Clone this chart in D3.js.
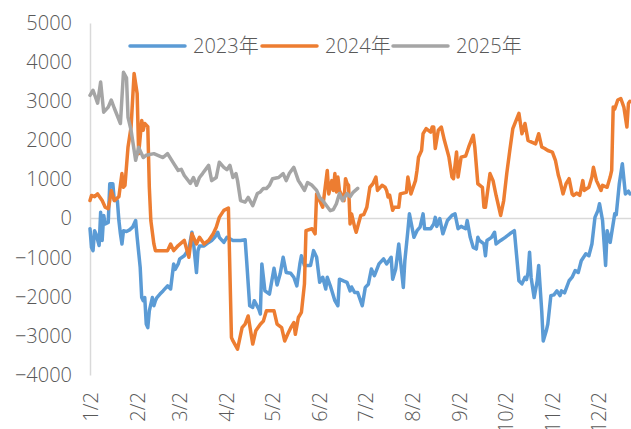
<!DOCTYPE html>
<html><head><meta charset="utf-8">
<script src="https://cdn.jsdelivr.net/npm/d3@7/dist/d3.min.js"></script>
<style>
html,body{margin:0;padding:0;background:#fff;}
svg text{font-family:"Open Sans","Noto Sans CJK SC",sans-serif;font-weight:300;fill:#595959;}
</style></head>
<body><svg id="chart" width="631" height="429"></svg>
<script>
// x values are day-of-year positions within the calendar year
const tickDays = [2,33,61,92,122,153,183,214,245,275,306,336];
const tickLabels = ["1/2","2/2","3/2","4/2","5/2","6/2","7/2","8/2","9/2","10/2","11/2","12/2"];
const yTicks = [-4000,-3000,-2000,-1000,0,1000,2000,3000,4000,5000];
const seriesNames = ["2023年","2024年","2025年"];
const seriesColors = ["#5B9BD5","#ED7D31","#A5A5A5"];

const days2023 = [2,3,4,5,6,8,9,10,11,12,14,15,17,18,20,21,22,23,24,26,28,30,32,33,35,36,37,38,39,40,41,43,44,45,46,48,50,53,55,57,58,60,61,64,67,69,70,72,73,74,77,80,82,84,86,87,90,92,94,96,98,101,104,105,107,109,110,113,114,115,116,117,120,123,125,127,129,131,134,136,138,140,141,143,147,149,151,153,155,157,158,160,163,165,166,169,171,173,174,176,178,181,183,185,187,189,192,195,197,200,201,203,205,208,209,211,212,215,217,219,221,222,226,228,229,230,232,234,237,240,242,244,246,249,250,252,254,256,257,258,261,262,263,266,268,269,272,275,278,281,284,286,288,289,290,291,292,294,296,297,299,300,302,303,305,307,309,311,312,314,317,319,321,323,325,328,330,332,334,336,337,339,341,342,344,347,348,350,352,354,356,357];
const vals2023 = [-260,-740,-820,-310,-400,-690,160,-560,80,-140,-100,890,890,460,460,-50,-390,-650,-310,-330,-290,-220,-50,-480,-1250,-2020,-2100,-2020,-2700,-2790,-2360,-2020,-2230,-2100,-2020,-1930,-1850,-1720,-1800,-1160,-1300,-1160,-1030,-950,-780,-350,-600,-1380,-820,-700,-700,-610,-560,-480,-350,-480,-610,-480,-520,-560,-560,-560,-540,-1080,-2230,-2270,-2100,-2320,-2440,-1160,-1500,-1850,-1930,-1270,-1700,-1420,-990,-1380,-1400,-1500,-1720,-1160,-950,-1200,-1200,-820,-990,-1630,-1500,-1800,-1500,-1720,-2100,-2230,-1550,-1600,-1630,-1850,-1750,-1890,-1890,-2230,-1760,-1680,-1290,-1460,-1160,-1030,-1160,-990,-1550,-1290,-650,-1760,-1080,-310,120,-480,-310,-220,120,-260,-260,-140,30,-200,0,-390,-50,80,120,-260,-200,-260,-50,-480,-740,-780,-480,-560,-650,-950,-560,-480,-350,-650,-560,-480,-390,-310,-1590,-1670,-1500,-1560,-1380,-860,-1500,-2020,-1600,-1200,-2360,-3130,-2870,-2700,-1970,-1950,-1850,-1970,-1850,-1900,-1590,-1500,-1330,-1380,-1080,-900,-950,-650,30,210,380,-50,-1200,-310,-610,120,100,890,1400,630,700,630];

const days2024 = [2,3,5,7,10,12,14,15,16,18,21,23,24,25,27,29,30,31,33,34,35,36,37,38,40,41,42,44,45,49,53,55,57,60,64,67,69,72,74,77,80,83,85,87,90,93,95,96,99,102,104,106,109,111,114,116,118,123,125,128,130,132,134,136,137,139,141,143,144,148,150,151,153,155,158,159,161,162,163,164,165,166,169,170,171,172,173,174,176,177,180,182,184,186,188,190,191,194,196,197,198,199,201,202,205,206,208,210,211,213,216,217,218,220,221,223,226,227,228,229,231,233,235,238,240,241,243,244,246,249,251,254,255,257,260,261,262,265,267,269,272,274,276,278,280,284,286,288,290,292,295,297,299,301,303,306,308,310,311,313,315,317,319,320,322,324,326,327,330,332,333,335,338,339,342,344,345,346,347,349,351,353,355,356,357];
const vals2024 = [460,590,560,630,460,290,250,460,720,460,560,1150,800,850,1830,2340,3030,3710,3200,1660,2080,2510,2260,2430,2350,800,-50,-650,-820,-820,-820,-650,-820,-690,-560,-990,-390,-650,-480,-650,-560,-390,-220,30,210,270,-3040,-3130,-3340,-2790,-2700,-2490,-3210,-2870,-2700,-2620,-2360,-2360,-2700,-2790,-3130,-2950,-2790,-2660,-2960,-2530,-2400,-1670,-310,-260,-390,630,460,290,1230,630,970,720,1150,680,1060,720,460,1020,900,850,-140,120,-220,-350,80,100,290,800,890,1060,720,850,800,720,550,600,210,290,290,630,650,670,1060,630,970,1230,1570,1740,2170,2300,2210,2340,2340,1790,2260,2340,2000,1570,1060,1020,1700,1060,1570,1600,1830,2130,1830,890,800,290,290,1150,970,590,80,460,1150,1740,2300,2690,2170,2430,2000,1960,1910,2170,1830,1790,1740,1700,1490,1100,970,630,890,1020,630,590,650,590,970,720,800,1060,1310,970,720,850,800,1060,1230,2850,2800,3030,3070,2850,2340,2940,3000];

const days2025 = [2,4,7,9,11,14,16,18,22,24,26,27,29,32,34,37,39,44,50,53,57,60,62,64,68,70,72,74,76,80,82,85,87,90,92,94,96,98,99,101,104,106,109,112,114,116,118,120,122,126,129,131,133,136,139,141,143,145,148,151,153,155,160,162,164,166,168,171,173,175,178];
const vals2025 = [3150,3280,2950,3490,2720,2850,3030,2820,2430,3740,3600,2590,2260,1490,1820,1560,1620,1660,1560,1660,1410,1230,1260,1100,900,1050,850,1050,1150,1360,970,1050,1440,1310,1250,1360,1050,1150,970,460,420,540,330,640,680,770,770,850,1020,1050,1150,970,1150,1310,970,850,720,920,850,720,540,460,200,230,380,640,460,640,560,670,770];

const series = [
  {name: seriesNames[0], color: seriesColors[0], days: days2023, vals: vals2023},
  {name: seriesNames[1], color: seriesColors[1], days: days2024, vals: vals2024},
  {name: seriesNames[2], color: seriesColors[2], days: days2025, vals: vals2025}
];

const svg = d3.select("#chart");
const x = d3.scaleLinear().domain([2, 336]).range([90, 598]);
const y = d3.scaleLinear().domain([-4000, 5000]).range([375, 23]);

// zero line
svg.append("line").attr("x1", x(2)).attr("x2", 631).attr("y1", y(0)).attr("y2", y(0))
  .attr("stroke", "#d9d9d9").attr("stroke-width", 1.5);

// y axis
const yAxis = d3.axisLeft(y).tickValues(yTicks).tickSize(0).tickPadding(18)
  .tickFormat(d3.format("d"));
const gy = svg.append("g").attr("transform", `translate(${x(2)},0)`).call(yAxis);
gy.select(".domain").attr("stroke", "#d9d9d9").attr("stroke-width", 1.5);
gy.selectAll("text").style("font-size", "20px").attr("fill", "#595959");

// x axis labels
const xAxis = d3.axisBottom(x).tickValues(tickDays).tickSize(0)
  .tickFormat((d, i) => tickLabels[i]);
const gx = svg.append("g").attr("transform", `translate(0,${y(-4000)})`).call(xAxis);
gx.select(".domain").remove();
gx.selectAll("text").style("font-size", "20px").attr("fill", "#595959")
  .attr("text-anchor", "end").attr("transform", "rotate(-90)")
  .attr("x", -17).attr("y", 0).attr("dy", "0.35em");

// lines
const line = d3.line().x(d => x(d[0])).y(d => y(d[1]));
series.forEach(s => {
  const pts = s.days.map((d, i) => [d, s.vals[i]]);
  svg.append("path").datum(pts).attr("d", line).attr("fill", "none")
    .attr("stroke", s.color).attr("stroke-width", 3.5)
    .attr("stroke-linejoin", "round").attr("stroke-linecap", "round");
});

// legend
const legendX = [130, 262, 393];
series.forEach((s, i) => {
  const g = svg.append("g").attr("transform", `translate(${legendX[i]},46)`);
  g.append("line").attr("x1", 0).attr("x2", 55).attr("y1", 0).attr("y2", 0)
    .attr("stroke", s.color).attr("stroke-width", 3.5).attr("stroke-linecap", "round");
  g.append("text").attr("x", 63).attr("y", 0).attr("dy", "0.35em")
    .style("font-size", "20px").text(s.name);
});
</script></body></html>
